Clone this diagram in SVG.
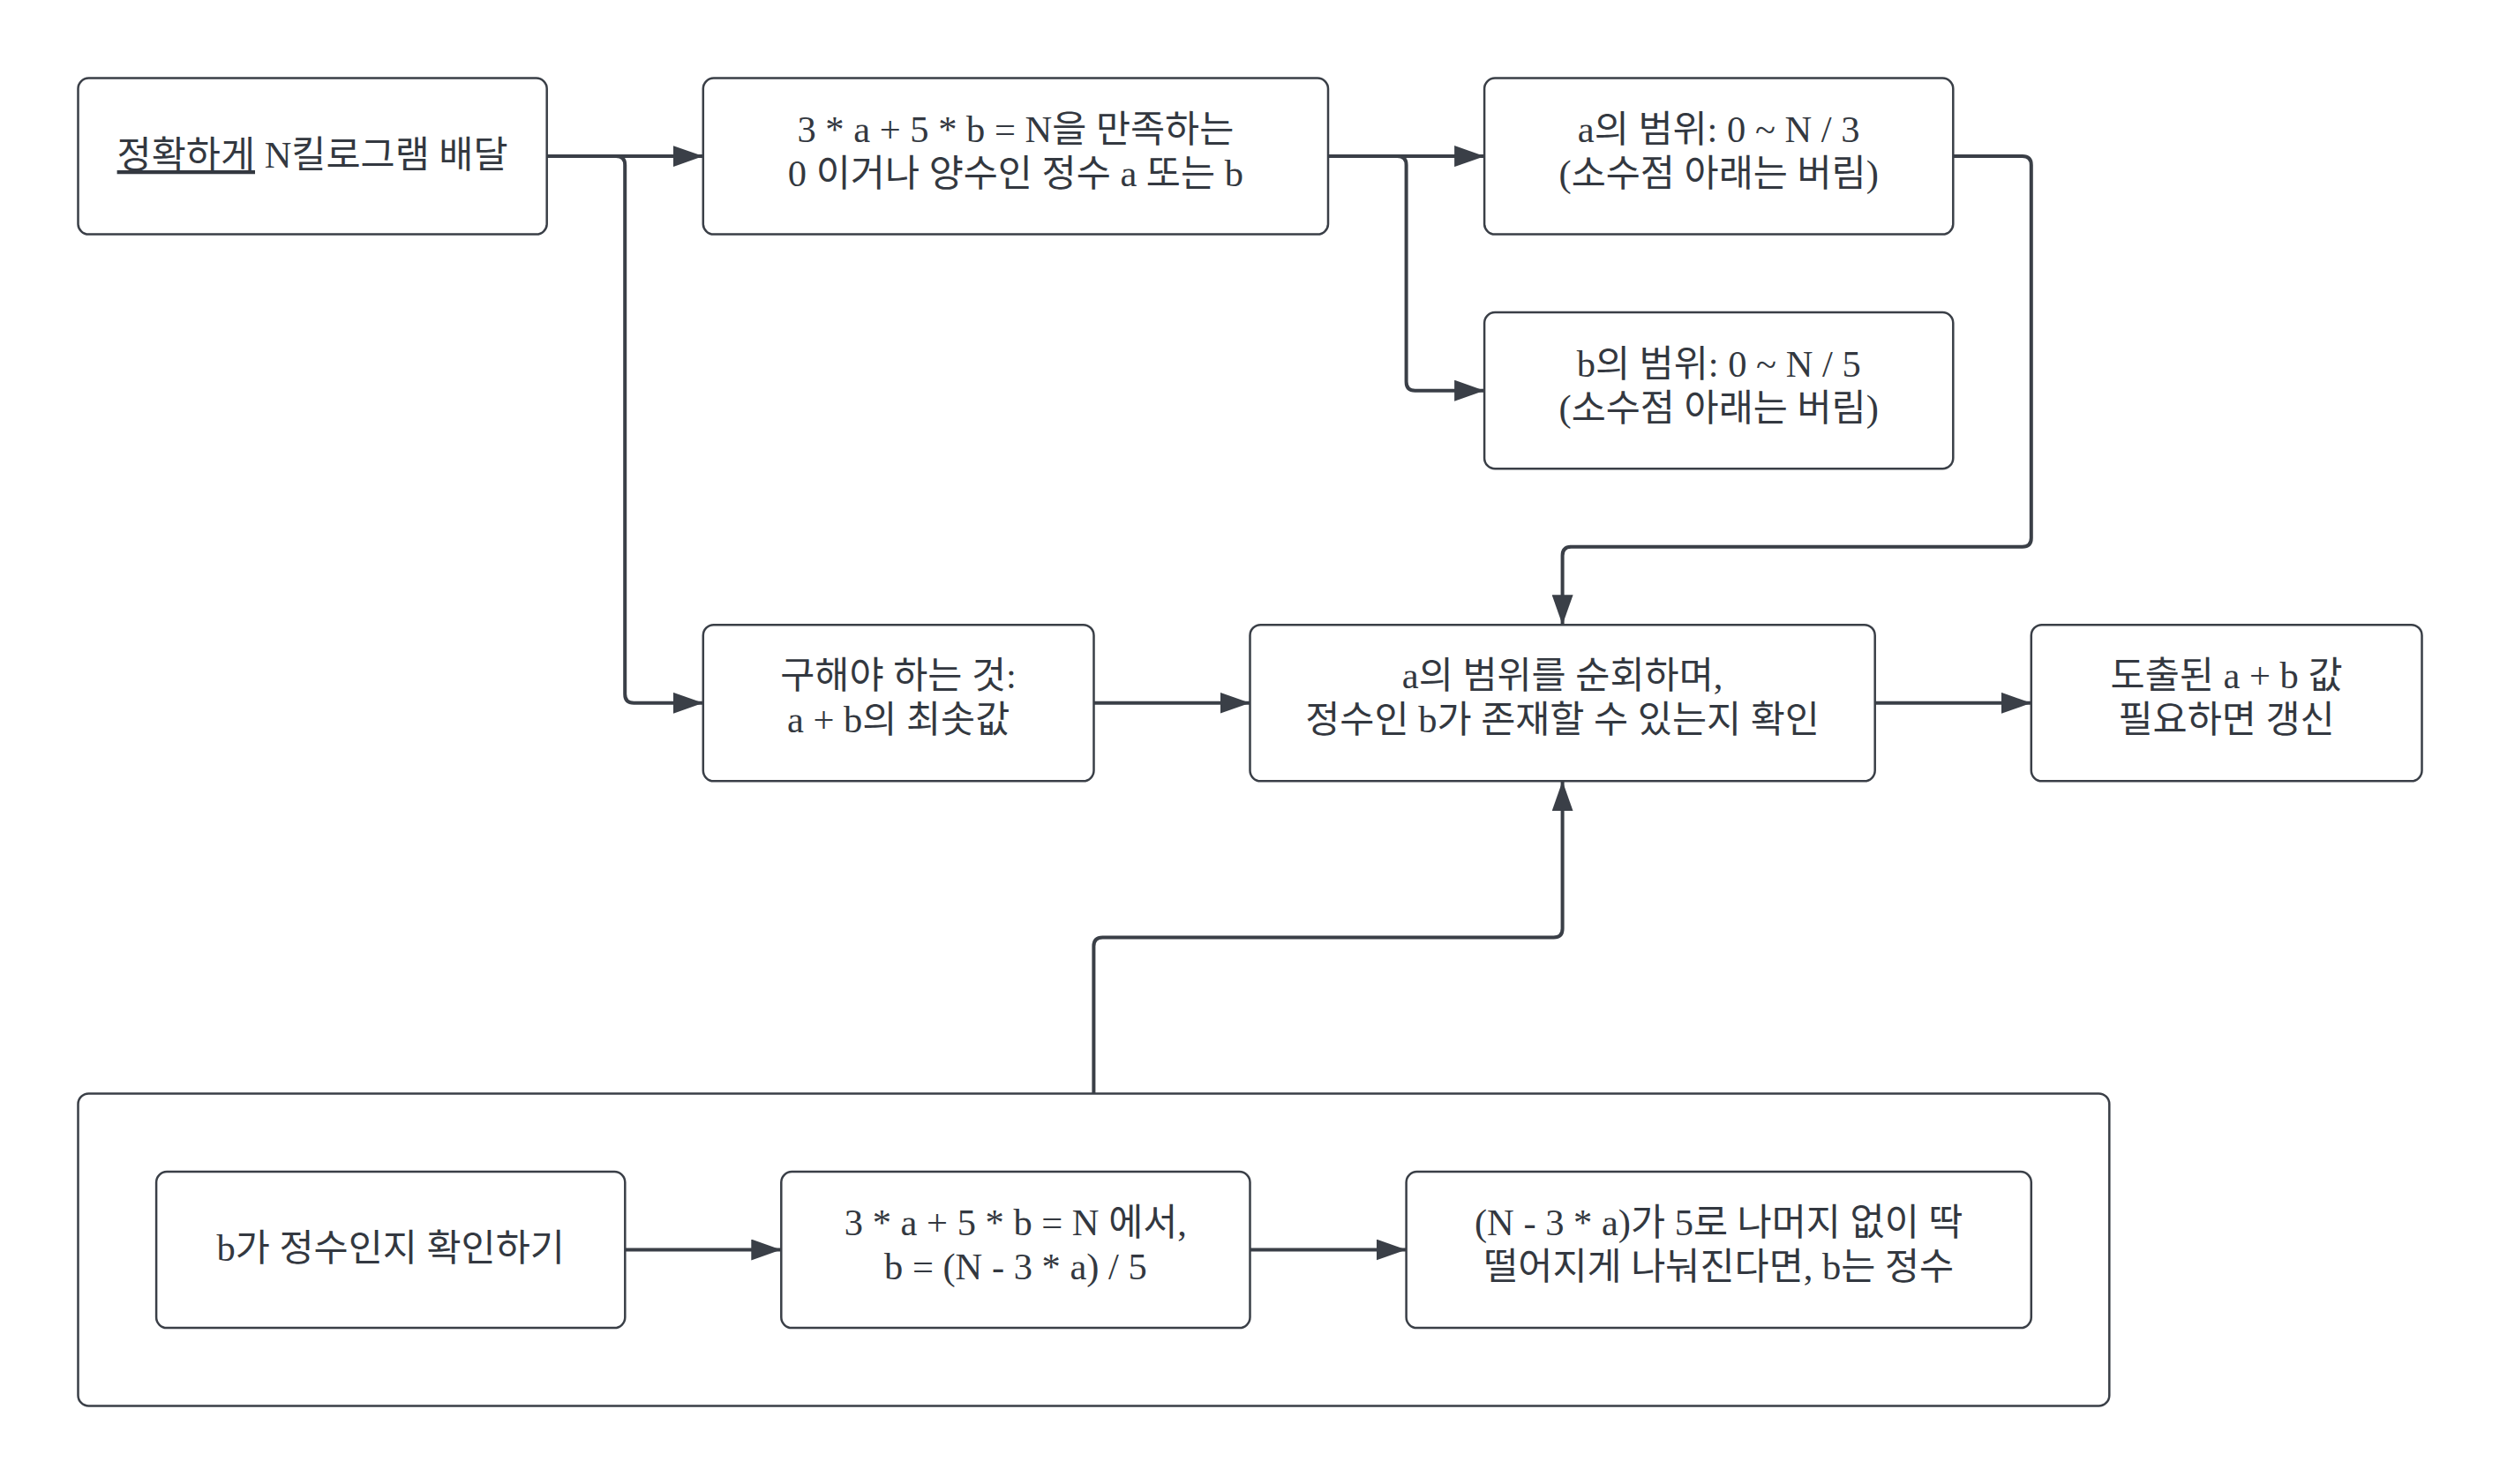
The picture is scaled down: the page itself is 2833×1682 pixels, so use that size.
<svg xmlns="http://www.w3.org/2000/svg" width="2833" height="1682" viewBox="0 0 2833 1682">
<defs>
<style>
.box{fill:#fff;stroke:#3a3f47;stroke-width:2.5}
.t{font-family:"Liberation Serif","Noto Sans CJK KR",serif;font-size:42.5px;fill:#333840;text-anchor:middle}
.c{fill:none;stroke:#3a3f47;stroke-width:4}
.u{text-decoration:underline;text-decoration-thickness:3px;text-underline-offset:6px}
</style>
<marker id="ah" markerWidth="34" markerHeight="24" refX="34" refY="12" orient="auto" markerUnits="userSpaceOnUse">
<path d="M0,0 L34,12 L0,24 Z" fill="#3a3f47"/>
</marker>
</defs>
<rect width="2833" height="1682" fill="#fff"/>
<g id="container"><rect class="box" x="88.5" y="1239.4" width="2301.8" height="354.1" rx="12"/></g>
<g id="connectors">
<path class="c" d="M619.7,177.1 H796.8" marker-end="url(#ah)"/>
<path class="c" d="M619.7,177.1 H698.2 Q708.2,177.1 708.2,187.1 V786.8 Q708.2,796.8 718.2,796.8 H796.8" marker-end="url(#ah)"/>
<path class="c" d="M1505,177.1 H1682.1" marker-end="url(#ah)"/>
<path class="c" d="M1505,177.1 H1583.6 Q1593.6,177.1 1593.6,187.1 V432.7 Q1593.6,442.7 1603.6,442.7 H1682.1" marker-end="url(#ah)"/>
<path class="c" d="M2213.3,177.1 H2291.8 Q2301.8,177.1 2301.8,187.1 V609.7 Q2301.8,619.7 2291.8,619.7 H1780.6 Q1770.6,619.7 1770.6,629.7 V708.2" marker-end="url(#ah)"/>
<path class="c" d="M1239.4,796.8 H1416.5" marker-end="url(#ah)"/>
<path class="c" d="M2124.8,796.8 H2301.8" marker-end="url(#ah)"/>
<path class="c" d="M1239.4,1239.4 V1072.4 Q1239.4,1062.4 1249.4,1062.4 H1760.6 Q1770.6,1062.4 1770.6,1052.4 V885.3" marker-end="url(#ah)"/>
<path class="c" d="M708.2,1416.5 H885.3" marker-end="url(#ah)"/>
<path class="c" d="M1416.5,1416.5 H1593.6" marker-end="url(#ah)"/>
</g>
<g id="n1"><rect class="box" x="88.5" y="88.5" width="531.2" height="177.1" rx="12"/>
<text class="t" x="354.1" y="190"><tspan class="u">정확하게</tspan> N킬로그램 배달</text></g>
<g id="n2"><rect class="box" x="796.8" y="88.5" width="708.2" height="177.1" rx="12"/>
<text class="t" x="1150.9" y="161">3 * a + 5 * b = N을 만족하는</text>
<text class="t" x="1150.9" y="211">0 이거나 양수인 정수 a 또는 b</text></g>
<g id="n3"><rect class="box" x="1682.1" y="88.5" width="531.2" height="177.1" rx="12"/>
<text class="t" x="1947.7" y="161">a의 범위: 0 ~ N / 3</text>
<text class="t" x="1947.7" y="211">(소수점 아래는 버림)</text></g>
<g id="n4"><rect class="box" x="1682.1" y="354.1" width="531.2" height="177.1" rx="12"/>
<text class="t" x="1947.7" y="427">b의 범위: 0 ~ N / 5</text>
<text class="t" x="1947.7" y="477">(소수점 아래는 버림)</text></g>
<g id="n5"><rect class="box" x="796.8" y="708.2" width="442.7" height="177.1" rx="12"/>
<text class="t" x="1018.1" y="780">구해야 하는 것:</text>
<text class="t" x="1018.1" y="830">a + b의 최솟값</text></g>
<g id="n6"><rect class="box" x="1416.5" y="708.2" width="708.2" height="177.1" rx="12"/>
<text class="t" x="1770.6" y="780">a의 범위를 순회하며,</text>
<text class="t" x="1770.6" y="830">정수인 b가 존재할 수 있는지 확인</text></g>
<g id="n7"><rect class="box" x="2301.8" y="708.2" width="442.7" height="177.1" rx="12"/>
<text class="t" x="2523.1" y="780">도출된 a + b 값</text>
<text class="t" x="2523.1" y="830">필요하면 갱신</text></g>
<g id="n8"><rect class="box" x="177.1" y="1328" width="531.2" height="177.1" rx="12"/>
<text class="t" x="442.7" y="1429">b가 정수인지 확인하기</text></g>
<g id="n9"><rect class="box" x="885.3" y="1328" width="531.2" height="177.1" rx="12"/>
<text class="t" x="1150.9" y="1400">3 * a + 5 * b = N 에서,</text>
<text class="t" x="1150.9" y="1450">b = (N - 3 * a) / 5</text></g>
<g id="n10"><rect class="box" x="1593.6" y="1328" width="708.2" height="177.1" rx="12"/>
<text class="t" x="1947.7" y="1400">(N - 3 * a)가 5로 나머지 없이 딱</text>
<text class="t" x="1947.7" y="1450">떨어지게 나눠진다면, b는 정수</text></g>
</svg>
